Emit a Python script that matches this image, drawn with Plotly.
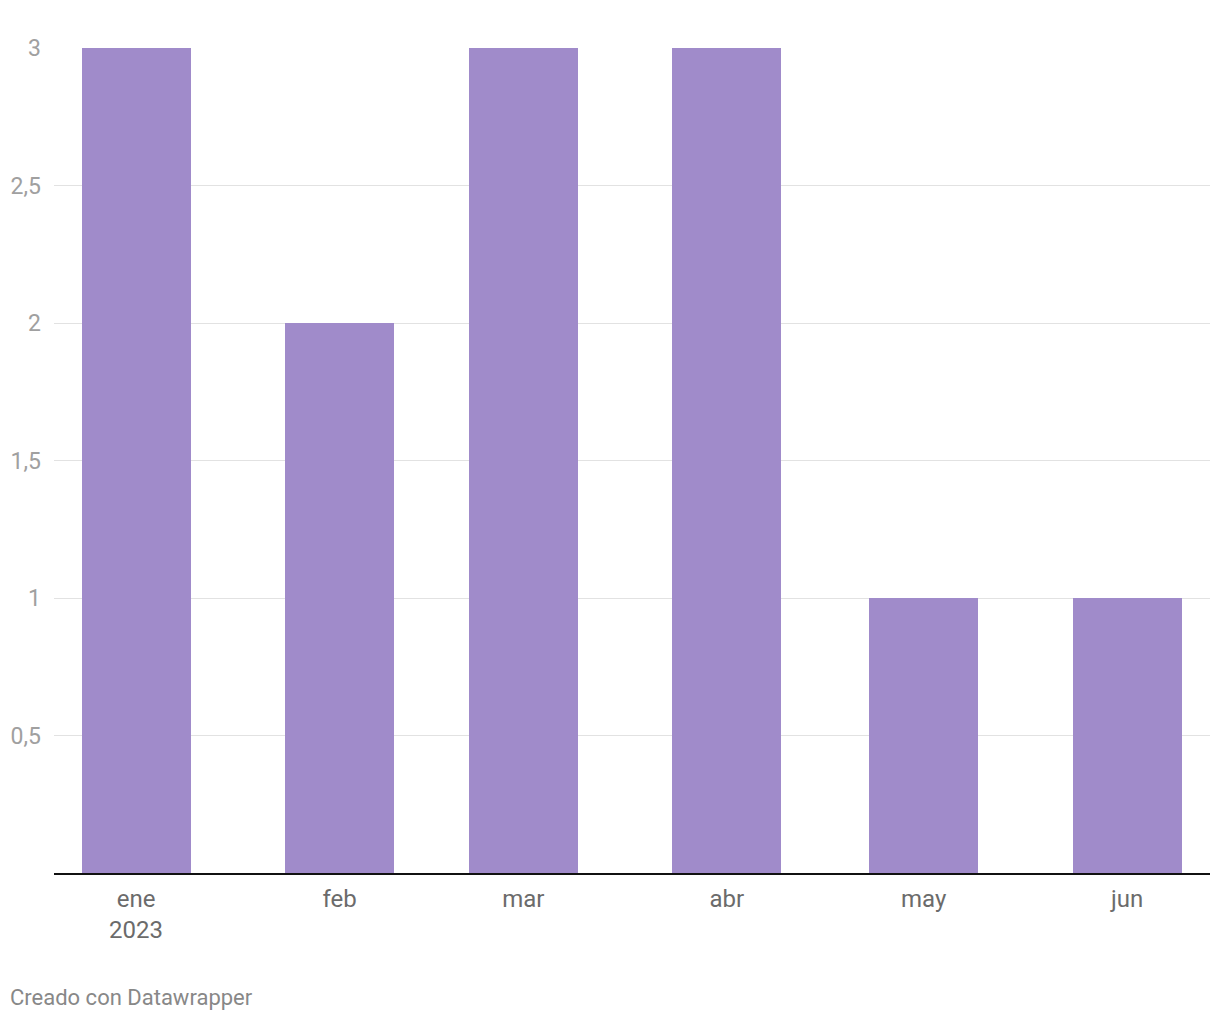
import plotly.graph_objects as go

months = ["2023-01-15", "2023-02-15", "2023-03-15", "2023-04-15", "2023-05-15", "2023-06-15"]
values = [3, 2, 3, 3, 1, 1]
month_labels = ["ene<br>2023", "feb", "mar", "abr", "may", "jun"]
y_ticks = [0.5, 1, 1.5, 2, 2.5, 3]
y_labels = ["0,5", "1", "1,5", "2", "2,5", "3"]

bar_width_ms = 16.6 * 24 * 3600 * 1000

fig = go.Figure(go.Bar(
    x=months, y=values,
    width=[bar_width_ms] * len(values),
    marker=dict(color="#a08bca", line=dict(width=0)),
    hoverinfo="x+y",
))

fig.update_layout(
    width=1220, height=1020,
    margin=dict(l=54, r=10, t=48, b=147),
    plot_bgcolor="white", paper_bgcolor="white",
    font=dict(family="Roboto", size=20, color="#6b6b6b"),
    showlegend=False,
    bargap=0,
    xaxis=dict(
        type="date",
        range=["2023-01-02 12:00", "2023-06-27 15:00"],
        tickvals=months, ticktext=month_labels,
        showgrid=False, showline=True, linecolor="#111111", linewidth=2,
        ticks="", tickfont=dict(size=24, color="#6b6b6b"),
        ticklabelstandoff=3,
        zeroline=False, fixedrange=True,
    ),
    yaxis=dict(
        range=[0, 3],
        tickvals=y_ticks, ticktext=y_labels,
        showgrid=True, gridcolor="#e2e2e2", gridwidth=1,
        zeroline=False, showline=False, ticks="",
        tickfont=dict(size=23, color="#a0a0a0"),
        ticklabelstandoff=12,
        fixedrange=True,
    ),
    annotations=[dict(
        text="Creado con Datawrapper", xref="paper", yref="paper",
        x=-46/1156, y=-(997-873)/825, xanchor="left", yanchor="middle",
        showarrow=False, font=dict(family="Roboto", size=22, color="#888888"),
    )],
)

fig.write_html("out.html")
